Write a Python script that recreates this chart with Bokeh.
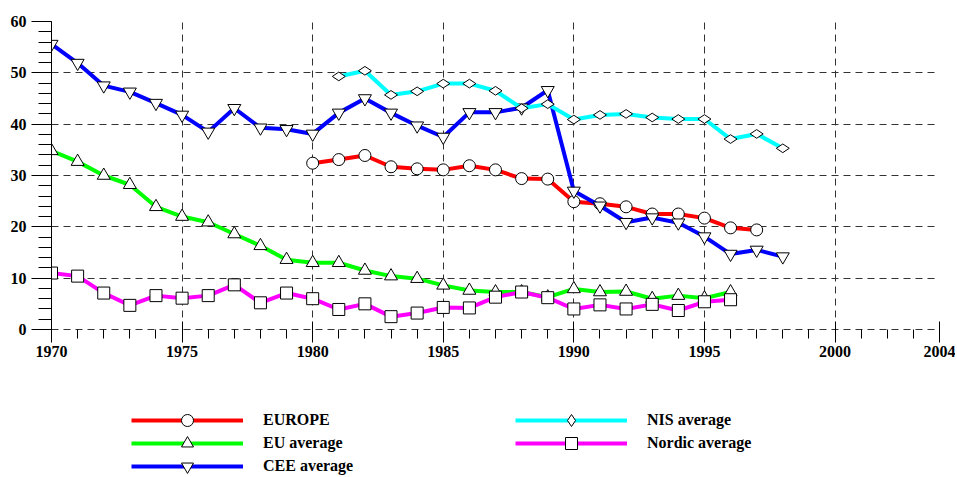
import math
from bokeh.plotting import figure
from bokeh.layouts import column
from bokeh.models import (Range1d, FixedTicker, SingleIntervalTicker, Legend,
                          LegendItem, ColumnDataSource)
from bokeh.embed import file_html
from bokeh.resources import INLINE

# ---------------- data ----------------
years_europe = list(range(1980, 1998))
europe = [32.4, 33.1, 33.9, 31.7, 31.3, 31.1, 31.9, 31.1, 29.4, 29.3,
          24.9, 24.5, 23.9, 22.5, 22.5, 21.7, 19.8, 19.4]

years_eu = list(range(1970, 1997))
eu_avg = [34.8, 32.7, 30.0, 28.2, 23.9, 22.0, 20.9, 18.6, 16.3, 13.6,
          13.0, 13.0, 11.5, 10.4, 9.9, 8.6, 7.6, 7.3, 7.3, 6.3,
          7.9, 7.3, 7.4, 6.0, 6.6, 6.1, 7.3]

years_cee = list(range(1970, 1999))
cee_avg = [55.6, 51.9, 47.5, 46.3, 44.1, 41.8, 38.5, 43.1, 39.3, 39.0,
           38.1, 42.2, 45.0, 42.2, 39.7, 37.5, 42.3, 42.3, 43.2, 46.6,
           27.0, 24.1, 20.9, 21.8, 20.8, 18.1, 14.7, 15.5, 14.2]

years_nis = list(range(1981, 1999))
nis_avg = [49.3, 50.4, 45.7, 46.4, 47.9, 47.9, 46.5, 43.1, 43.9, 40.9,
           41.8, 42.0, 41.3, 41.0, 41.0, 37.1, 38.1, 35.3]

years_nordic = list(range(1970, 1997))
nordic_avg = [11.0, 10.4, 7.1, 4.7, 6.6, 6.1, 6.6, 8.7, 5.2, 7.1,
              6.0, 3.9, 5.0, 2.5, 3.2, 4.3, 4.2, 6.3, 7.3, 6.2,
              4.0, 4.8, 4.0, 4.9, 3.7, 5.4, 5.8]

x_major = [1970, 1975, 1980, 1985, 1990, 1995, 2000, 2004]
x_grid = [1975, 1980, 1985, 1990, 1995, 2000, 2004]
y_grid = [10, 20, 30, 40, 50, 60]

series = [
    ("EUROPE", years_europe, europe, "#FF0000", "circle", 12, 0.0),
    ("EU average", years_eu, eu_avg, "#00FF00", "triangle", 13, 0.0),
    ("CEE average", years_cee, cee_avg, "#0000FF", "inverted_triangle", 13, 0.0),
    ("NIS average", years_nis, nis_avg, "#00FFFF", "diamond", 13, math.pi / 2),
    ("Nordic average", years_nordic, nordic_avg, "#FF00FF", "square", 12, 0.0),
]
# legend rows: (row items by series index)
legend_rows = [[0, 3], [1, 4], [2]]

FONT = "Liberation Serif"

# ---------------- main chart ----------------
p = figure(frame_width=888, frame_height=308,
           min_border_left=51, min_border_right=16,
           min_border_top=21, min_border_bottom=43,
           x_range=Range1d(1970, 2004), y_range=Range1d(0, 60),
           output_backend="svg", toolbar_location=None)
p.outline_line_color = None
p.background_fill_color = "white"
p.border_fill_color = "white"

p.xgrid.ticker = FixedTicker(ticks=x_grid)
p.ygrid.ticker = FixedTicker(ticks=y_grid)
for g in (p.xgrid, p.ygrid):
    g.grid_line_color = "#333333"
    g.grid_line_dash = "7 5"
    g.grid_line_width = 1

xa = p.xaxis[0]
xa.ticker = FixedTicker(ticks=x_major, minor_ticks=list(range(1970, 2005)))
xa.axis_line_dash = "7 5"
xa.axis_line_color = "#333333"
xa.major_tick_in = 8
xa.major_tick_out = 13
xa.minor_tick_in = 0
xa.minor_tick_out = 9
xa.major_tick_line_color = "black"
xa.minor_tick_line_color = "black"
xa.major_label_standoff = 3

ya = p.yaxis[0]
ya.ticker = SingleIntervalTicker(interval=10, num_minor_ticks=5)
ya.axis_line_color = "black"
ya.major_tick_in = 0
ya.major_tick_out = 20
ya.minor_tick_in = 0
ya.minor_tick_out = 13
ya.major_tick_line_color = "black"
ya.minor_tick_line_color = "black"
ya.major_label_standoff = 5

for ax in (xa, ya):
    ax.major_label_text_font = FONT
    ax.major_label_text_font_style = "bold"
    ax.major_label_text_font_size = "16px"
    ax.major_label_text_color = "black"

# ---------------- legend panel (separate figure below) ----------------
lg = figure(width=955, height=104, min_border=0,
            x_range=Range1d(0, 1), y_range=Range1d(0, 1),
            x_axis_type=None, y_axis_type=None,
            output_backend="svg", toolbar_location=None)
lg.outline_line_color = None
lg.grid.visible = False
lg.background_fill_color = "white"
lg.border_fill_color = "white"

legend_items = []
for name, xs, ys, color, marker, size, ang in series:
    src = ColumnDataSource(dict(x=xs, y=ys))
    for fig in (p, lg):
        r_line = fig.line("x", "y", source=src, line_color=color, line_width=4,
                          line_join="round")
        r_mark = fig.scatter("x", "y", source=src, marker=marker, size=size,
                             angle=ang, fill_color="white", line_color="black",
                             line_width=1)
    legend_items.append(LegendItem(label=name, renderers=[r_line, r_mark]))

row_offsets = [41, 18, -5]
for row, vy in zip(legend_rows, row_offsets):
    leg = Legend(items=[legend_items[i] for i in row], location=(80, vy),
                 orientation="horizontal", glyph_width=112, glyph_height=30,
                 label_standoff=20, label_width=252, label_height=16,
                 spacing=0, padding=0, margin=0, border_line_color=None,
                 background_fill_alpha=0, inactive_fill_alpha=0,
                 label_text_font=FONT, label_text_font_style="bold",
                 label_text_font_size="16px", label_text_color="black")
    lg.add_layout(leg)

layout = column(p, lg, spacing=0)
open("out.html", "w").write(file_html(layout, INLINE))
